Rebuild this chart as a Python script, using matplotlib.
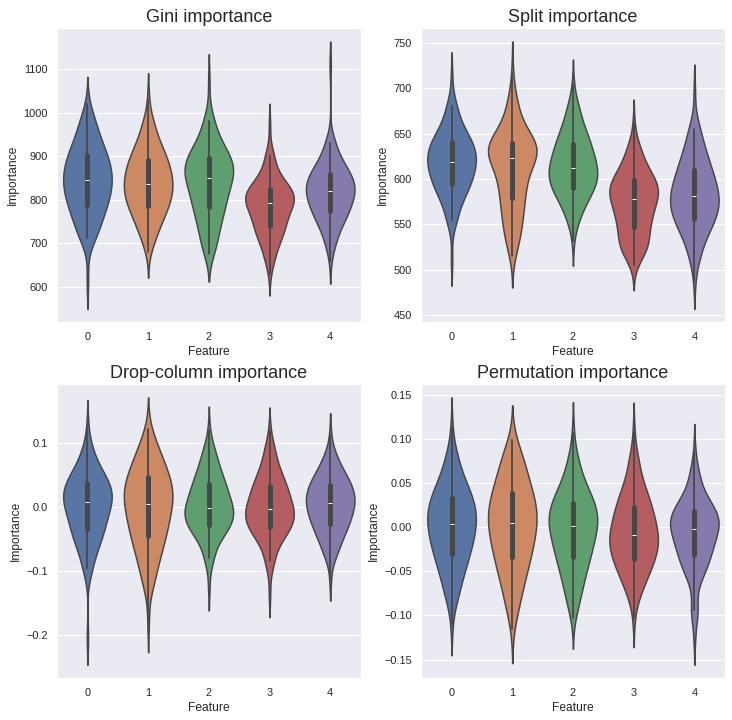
import numpy as np
import pandas as pd
import matplotlib
matplotlib.use("Agg")
import matplotlib.pyplot as plt
import seaborn as sns

# importance values per feature, read off the violins as 21 quantiles
# (0%, 5%, ..., 100%); each quantile stands for quantile_counts[i] runs
features = [0, 1, 2, 3, 4]
quantile_counts = [1, 5, 5, 5, 5, 5, 5, 5, 5, 5, 5, 5, 5, 5, 5, 5, 5, 5, 5, 5, 1]

gini = [
    [612, 711, 735, 756, 773, 787, 800, 812, 823, 834, 845, 856, 866, 877, 889, 902, 916, 932, 955, 985, 1019],
    [679, 710, 739, 757, 772, 785, 797, 807, 817, 827, 837, 847, 857, 868, 879, 891, 904, 920, 940, 975, 1032],
    [676, 690, 721, 746, 765, 782, 797, 811, 824, 837, 850, 859, 867, 876, 885, 896, 908, 921, 942, 980, 1070],
    [630, 665, 697, 713, 727, 739, 751, 762, 772, 782, 792, 798, 804, 810, 817, 824, 833, 845, 865, 900, 970],
    [660, 700, 732, 748, 762, 773, 783, 793, 802, 810, 819, 826, 834, 841, 849, 858, 869, 882, 897, 930, 1110],
]
split = [
    [510, 555, 572, 582, 589, 595, 600, 605, 610, 615, 619, 623, 627, 632, 636, 641, 646, 653, 663, 680, 712],
    [515, 530, 545, 558, 569, 579, 589, 598, 606, 615, 623, 626, 629, 633, 636, 640, 645, 652, 665, 685, 717],
    [532, 555, 570, 578, 585, 590, 595, 599, 604, 608, 612, 617, 622, 627, 633, 639, 646, 653, 664, 680, 704],
    [505, 517, 525, 530, 539, 547, 554, 560, 566, 572, 578, 582, 586, 590, 594, 599, 604, 611, 621, 635, 660],
    [488, 515, 533, 543, 550, 556, 562, 567, 572, 576, 581, 586, 592, 597, 603, 610, 618, 626, 638, 655, 695],
]
drop_col = [
    [-0.205, -0.095, -0.068, -0.055, -0.044, -0.034, -0.025, -0.016, -0.008, -0.001, 0.007,
     0.013, 0.018, 0.024, 0.030, 0.037, 0.045, 0.053, 0.064, 0.088, 0.125],
    [-0.178, -0.117, -0.090, -0.072, -0.057, -0.045, -0.034, -0.024, -0.014, -0.004, 0.005,
     0.013, 0.020, 0.028, 0.036, 0.046, 0.055, 0.066, 0.080, 0.100, 0.122],
    [-0.125, -0.080, -0.054, -0.042, -0.035, -0.028, -0.022, -0.016, -0.011, -0.006, -0.001,
     0.006, 0.013, 0.020, 0.028, 0.036, 0.045, 0.056, 0.070, 0.090, 0.120],
    [-0.135, -0.085, -0.058, -0.046, -0.038, -0.031, -0.025, -0.019, -0.014, -0.009, -0.004,
     0.003, 0.010, 0.017, 0.025, 0.032, 0.041, 0.052, 0.066, 0.090, 0.118],
    [-0.112, -0.075, -0.057, -0.045, -0.035, -0.027, -0.020, -0.013, -0.006, 0.000, 0.006,
     0.011, 0.017, 0.023, 0.029, 0.035, 0.043, 0.051, 0.061, 0.080, 0.112],
]
permutation = [
    [-0.110, -0.079, -0.061, -0.048, -0.038, -0.030, -0.022, -0.015, -0.009, -0.002, 0.004,
     0.009, 0.015, 0.021, 0.027, 0.033, 0.040, 0.049, 0.060, 0.080, 0.112],
    [-0.115, -0.090, -0.069, -0.055, -0.044, -0.034, -0.025, -0.017, -0.010, -0.002, 0.005,
     0.011, 0.018, 0.024, 0.031, 0.039, 0.048, 0.058, 0.070, 0.085, 0.099],
    [-0.103, -0.084, -0.066, -0.053, -0.043, -0.034, -0.026, -0.019, -0.012, -0.006, 0.001,
     0.006, 0.011, 0.016, 0.022, 0.028, 0.035, 0.043, 0.054, 0.075, 0.107],
    [-0.103, -0.075, -0.060, -0.050, -0.043, -0.036, -0.030, -0.024, -0.019, -0.014, -0.009,
     -0.003, 0.003, 0.009, 0.016, 0.023, 0.031, 0.040, 0.052, 0.075, 0.108],
    [-0.125, -0.094, -0.057, -0.047, -0.038, -0.031, -0.025, -0.019, -0.013, -0.007, -0.002,
     0.002, 0.006, 0.010, 0.013, 0.018, 0.023, 0.030, 0.040, 0.060, 0.086],
]

panels = [
    ("Gini importance", gini),
    ("Split importance", split),
    ("Drop-column importance", drop_col),
    ("Permutation importance", permutation),
]

sns.set_theme(style="darkgrid")
plt.rcParams['font.family'] = ['Liberation Sans', 'DejaVu Sans']

fig, axes = plt.subplots(2, 2, figsize=(732 / 72, 720 / 72), dpi=72)
fig.subplots_adjust(left=0.078, right=0.99, bottom=0.058, top=0.961, wspace=0.2, hspace=0.21)

for ax, (title, values) in zip(axes.flat, panels):
    rows = []
    for feat, vals in zip(features, values):
        for v, n in zip(vals, quantile_counts):
            rows += [(feat, v)] * n
    df = pd.DataFrame(rows, columns=["Feature", "Importance"])
    sns.violinplot(data=df, x="Feature", y="Importance", hue="Feature", palette="deep",
                   legend=False, linewidth=1.5, linecolor="#474747",
                   inner_kws=dict(box_width=5, whis_width=1.8), ax=ax)
    ax.set_title(title, fontsize=18)

fig.savefig("out.png", dpi=72)
